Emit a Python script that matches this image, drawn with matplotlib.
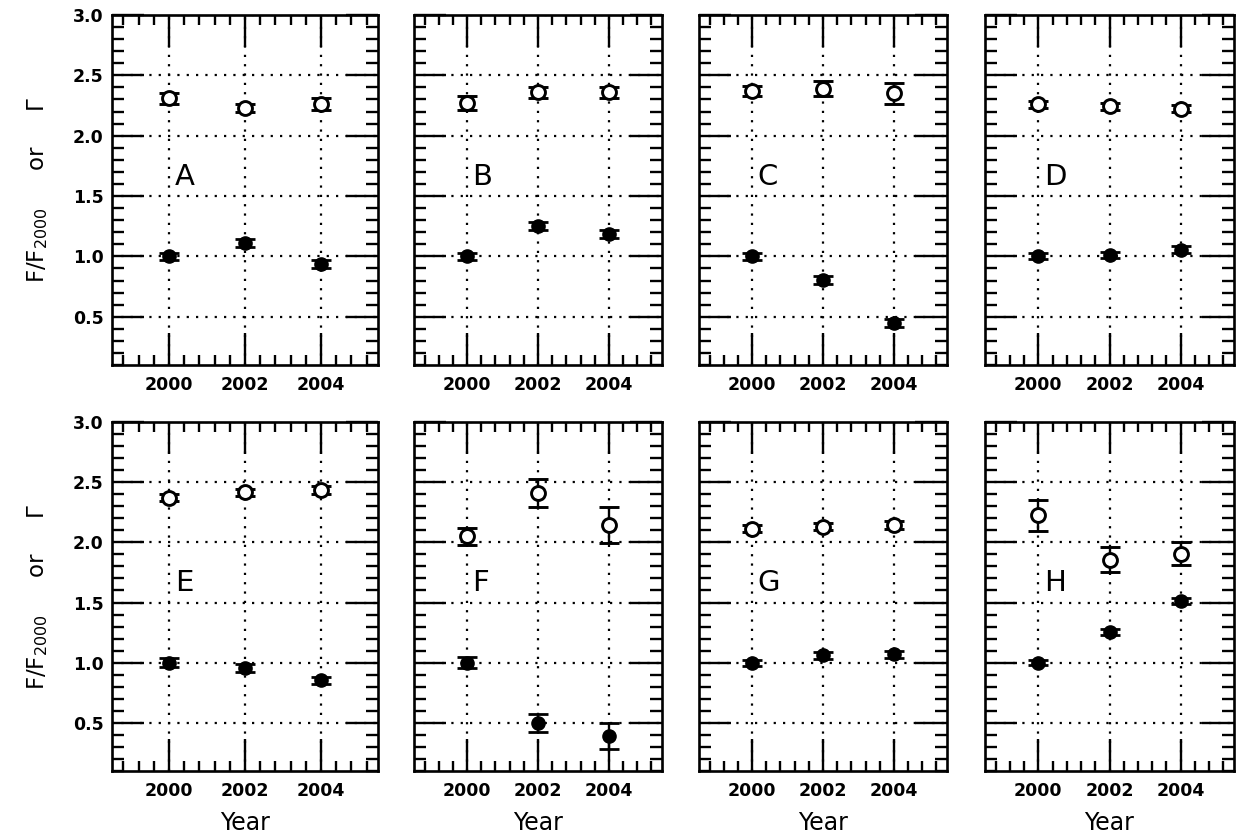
import matplotlib.pyplot as plt
from matplotlib.ticker import MultipleLocator, FormatStrFormatter

years = [2000, 2002, 2004]
panel_names = ["A", "B", "C", "D", "E", "F", "G", "H"]

# photon index (open circles)
gamma_values = [
    [2.31, 2.23, 2.26],
    [2.27, 2.36, 2.36],
    [2.37, 2.39, 2.35],
    [2.26, 2.245, 2.225],
    [2.37, 2.415, 2.435],
    [2.05, 2.41, 2.145],
    [2.115, 2.13, 2.145],
    [2.225, 1.855, 1.905],
]
gamma_errors = [
    [0.045, 0.035, 0.05],
    [0.055, 0.045, 0.045],
    [0.04, 0.06, 0.085],
    [0.03, 0.03, 0.03],
    [0.03, 0.03, 0.035],
    [0.07, 0.115, 0.15],
    [0.03, 0.03, 0.035],
    [0.13, 0.105, 0.095],
]

# flux relative to 2000 (filled circles)
flux_values = [
    [1.00, 1.11, 0.935],
    [1.00, 1.25, 1.185],
    [1.00, 0.805, 0.45],
    [1.00, 1.015, 1.055],
    [1.00, 0.955, 0.855],
    [1.00, 0.495, 0.39],
    [1.00, 1.06, 1.07],
    [1.00, 1.255, 1.51],
]
flux_errors = [
    [0.03, 0.035, 0.035],
    [0.03, 0.035, 0.03],
    [0.03, 0.035, 0.035],
    [0.025, 0.025, 0.03],
    [0.035, 0.035, 0.03],
    [0.045, 0.075, 0.105],
    [0.025, 0.03, 0.03],
    [0.02, 0.025, 0.025],
]

W, H = 1237, 836
fig = plt.figure(figsize=(W / 100, H / 100), dpi=100)

# panel boxes in pixels: left edges / widths per column, top / bottom per row
col_left = [112, 414, 699, 985]
col_width = [266, 248, 248, 249]
row_top = [15, 422]
row_bottom = [365, 771]

for i, name in enumerate(panel_names):
    r, c = divmod(i, 4)
    ax = fig.add_axes([
        col_left[c] / W,
        1 - row_bottom[r] / H,
        col_width[c] / W,
        (row_bottom[r] - row_top[r]) / H,
    ])

    ax.errorbar(years, flux_values[i], yerr=flux_errors[i], fmt="o",
                color="black", ms=9.5, mec="black", mfc="black",
                elinewidth=1.7, capsize=7.5, capthick=2.0)
    ax.errorbar(years, gamma_values[i], yerr=gamma_errors[i], fmt="o",
                color="black", ms=10, mec="black", mfc="white", mew=2.1,
                elinewidth=1.7, capsize=7.5, capthick=2.0)

    ax.set_xlim(1998.5, 2005.5)
    ax.set_ylim(0.1, 3.0)
    ax.xaxis.set_major_locator(MultipleLocator(2))
    ax.xaxis.set_minor_locator(MultipleLocator(0.4))
    ax.yaxis.set_major_locator(MultipleLocator(0.5))
    ax.yaxis.set_minor_locator(MultipleLocator(0.1))
    ax.yaxis.set_major_formatter(FormatStrFormatter("%.1f"))

    ax.tick_params(which="both", direction="in", top=True, right=True,
                   width=1.7, color="black")
    ax.tick_params(which="major", length=23)
    ax.tick_params(axis="x", which="minor", length=7)
    ax.tick_params(axis="y", which="minor", length=8.5)
    ax.tick_params(axis="x", which="major", pad=8)
    ax.tick_params(axis="y", which="major", pad=6)
    for lab in ax.get_xticklabels() + ax.get_yticklabels():
        lab.set_fontweight("bold")
        lab.set_fontsize(12.5)
    if c != 0:
        ax.tick_params(axis="y", labelleft=False)

    for sp in ax.spines.values():
        sp.set_linewidth(1.9)

    ax.grid(True, which="major", color="black", linewidth=1.6,
            linestyle=(0, (1, 3.2)))
    ax.set_axisbelow(True)

    ax.text(2000.15, 1.66, name, fontsize=21, ha="left", va="center")

    if r == 1:
        ax.text(0.5, -0.115, "Year", transform=ax.transAxes, ha="center",
                va="top", fontsize=17, fontweight="medium")

for r in range(2):
    yc = 1 - (row_top[r] + row_bottom[r]) / 2 / H
    fig.text(38 / W, yc, "F/F$_{2000}$     or     Γ", rotation=90,
             ha="center", va="center", fontsize=16.5)

plt.savefig("out.png", dpi=100)
